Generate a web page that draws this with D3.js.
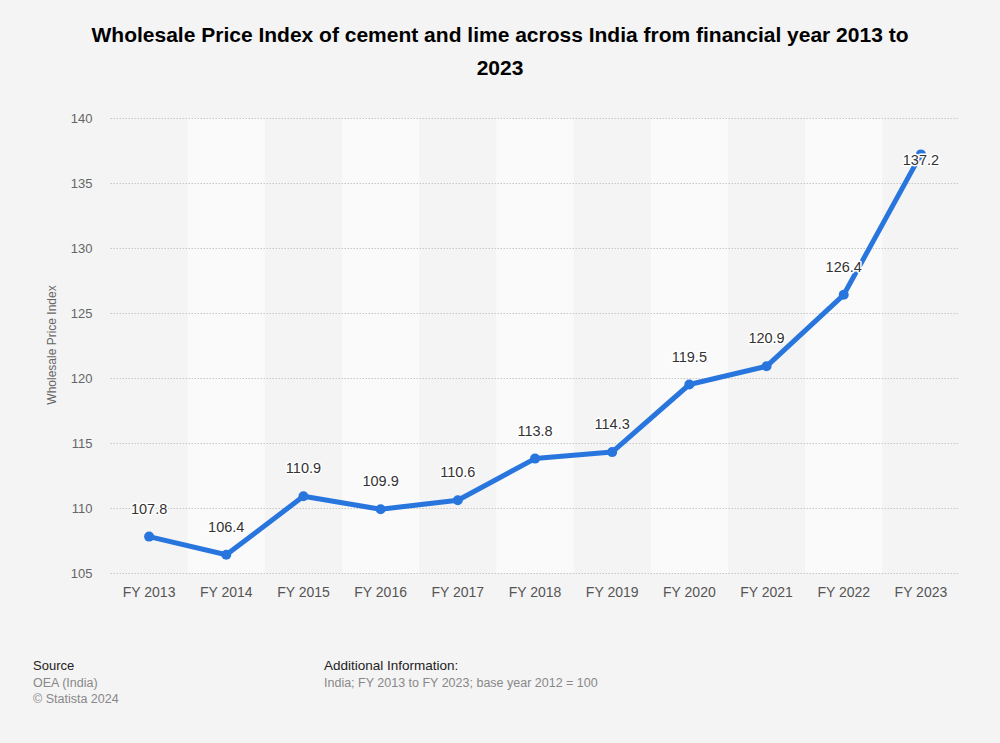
<!DOCTYPE html>
<html><head><meta charset="utf-8">
<script src="https://cdn.jsdelivr.net/npm/d3@7"></script>
<style>
body{margin:0;background:#f4f4f4;}
svg{display:block;font-family:"Liberation Sans",Arial,sans-serif;}
</style></head>
<body>
<svg id="c" width="1000" height="743"></svg>
<script>
const categories = ["FY 2013","FY 2014","FY 2015","FY 2016","FY 2017","FY 2018","FY 2019","FY 2020","FY 2021","FY 2022","FY 2023"];
const values = [107.8,106.4,110.9,109.9,110.6,113.8,114.3,119.5,120.9,126.4,137.2];
const yTicks = [105,110,115,120,125,130,135,140];

(function(){
const svg = d3.select("#c");
svg.append("rect").attr("width",1000).attr("height",743).attr("fill","#f4f4f4");

const pL=110.5, pR=959.5, pT=118, pB=573;
const x = d3.scaleBand().domain(categories).range([pL,pR]);
const y = d3.scaleLinear().domain([105,140]).range([pB,pT]);

// alternating bands
svg.append("g").selectAll("rect").data(categories.filter((d,i)=>i%2===1)).join("rect")
  .attr("x",d=>x(d)).attr("y",pT).attr("width",x.bandwidth()).attr("height",pB-pT)
  .attr("fill","#fafafa");

// grid
const yAxis = d3.axisLeft(y).tickValues(yTicks).tickSize(-(pR-pL)).tickPadding(18);
const gy = svg.append("g").attr("transform",`translate(${pL},0)`).call(yAxis);
gy.select(".domain").remove();
gy.selectAll(".tick line").attr("stroke","#c8c8c8").attr("stroke-dasharray","1.5,1.5").attr("stroke-width",1);
gy.selectAll(".tick text").attr("fill","#666").attr("font-size","13px").attr("x",-18).attr("text-anchor","end");

const xAxis = d3.axisBottom(x).tickSize(0).tickPadding(14);
const gx = svg.append("g").attr("transform",`translate(0,${pB})`).call(xAxis);
gx.select(".domain").remove();
gx.selectAll(".tick text").attr("fill","#555").attr("font-size","14px");

// y title
svg.append("text").attr("transform","translate(56,345) rotate(-90)").attr("text-anchor","middle")
  .attr("fill","#666").attr("font-size","12px").text("Wholesale Price Index");

// line
const cx = d=>x(d)+x.bandwidth()/2;
const line = d3.line().x((d,i)=>cx(categories[i])).y(d=>y(d));
svg.append("path").datum(values).attr("d",line).attr("fill","none").attr("stroke","#2876dd")
  .attr("stroke-width",5).attr("stroke-linejoin","round").attr("stroke-linecap","round");
svg.append("g").selectAll("circle").data(values).join("circle")
  .attr("cx",(d,i)=>cx(categories[i])).attr("cy",d=>y(d)).attr("r",5).attr("fill","#2876dd");

// labels
svg.append("g").selectAll("text").data(values).join("text")
  .attr("x",(d,i)=>cx(categories[i]))
  .attr("y",(d,i)=> i===values.length-1 ? y(d)+11 : y(d)-23)
  .attr("text-anchor","middle").attr("font-size","14.5px").attr("fill","#333")
  .attr("stroke","#fff").attr("stroke-width",3).attr("paint-order","stroke").attr("stroke-linejoin","round")
  .text(d=>d.toFixed(1));

// title
const t = svg.append("text").attr("text-anchor","middle").attr("font-size","21px").attr("font-weight","bold").attr("fill","#000");
t.append("tspan").attr("x",500).attr("y",42).text("Wholesale Price Index of cement and lime across India from financial year 2013 to");
t.append("tspan").attr("x",500).attr("y",75).text("2023");

// footer
svg.append("text").attr("x",33).attr("y",670).attr("font-size","13px").attr("fill","#222").text("Source");
svg.append("text").attr("x",33).attr("y",687).attr("font-size","12.5px").attr("fill","#888").text("OEA (India)");
svg.append("text").attr("x",33).attr("y",703).attr("font-size","12.5px").attr("fill","#888").text("© Statista 2024");
svg.append("text").attr("x",324).attr("y",670).attr("font-size","13.5px").attr("fill","#222").text("Additional Information:");
svg.append("text").attr("x",324).attr("y",687).attr("font-size","12.5px").attr("fill","#888").text("India; FY 2013 to FY 2023; base year 2012 = 100");
})();
</script>
</body></html>
